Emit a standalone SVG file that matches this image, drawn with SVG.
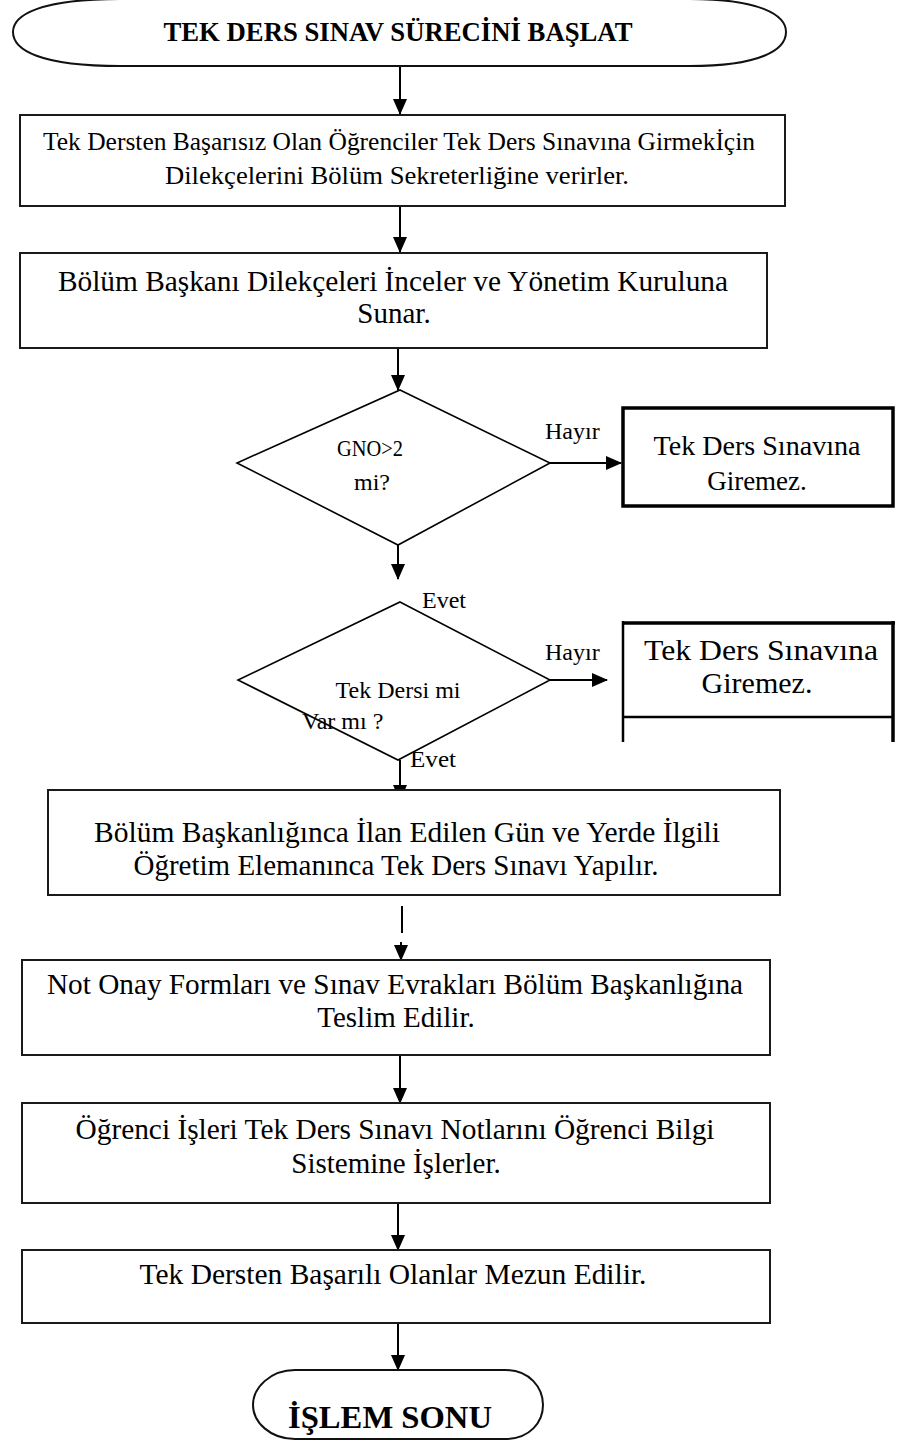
<svg xmlns="http://www.w3.org/2000/svg" width="907" height="1441" viewBox="0 0 907 1441">
<defs>
<style>
.t{font-family:"Liberation Serif","Times New Roman",serif;fill:#000;}
.c{text-anchor:middle;}
.b{font-weight:bold;}
.box{fill:#fff;stroke:#1a1a1a;stroke-width:2;}
.thick{fill:#fff;stroke:#000;stroke-width:3.5;}
.dia{fill:#fff;stroke:#000;stroke-width:1.6;}
.term{fill:#fff;stroke:#111;stroke-width:2;}
.ln{fill:none;stroke:#000;stroke-width:2;}
.ar{fill:none;stroke:#000;stroke-width:2;marker-end:url(#ah);}
</style>
<marker id="ah" markerUnits="userSpaceOnUse" markerWidth="16" markerHeight="14" viewBox="0 0 16 14" refX="15" refY="7" orient="auto">
<path d="M0,0 L16,7 L0,14 Z" fill="#000"/>
</marker>
</defs>
<rect width="907" height="1441" fill="#fff"/>

<g id="connectors">
<line class="ar" x1="400" y1="66" x2="400" y2="114"/>
<line class="ar" x1="400" y1="206" x2="400" y2="252"/>
<line class="ar" x1="398" y1="348" x2="398" y2="390"/>
<line class="ar" x1="515" y1="463" x2="621" y2="463"/>
<line class="ar" x1="398" y1="545" x2="398" y2="579"/>
<line class="ar" x1="550" y1="680" x2="607" y2="680"/>
<line class="ar" x1="400" y1="760" x2="400" y2="800"/>
<line class="ln" x1="402" y1="906" x2="402" y2="933" stroke-width="1.5"/>
<line class="ar" x1="401" y1="942" x2="401" y2="960"/>
<line class="ar" x1="400" y1="1055" x2="400" y2="1103"/>
<line class="ar" x1="398" y1="1203" x2="398" y2="1250"/>
<line class="ar" x1="398" y1="1323" x2="398" y2="1370"/>
</g>

<g id="start">
<path class="term" d="M120,-1 L690,-1 C760,-1 786,15 786,32 C786,50 760,66 690,66 L120,66 C40,66 13,50 13,32 C13,15 40,-1 120,-1 Z"/>
<text class="t b c" x="398" y="41" font-size="27" textLength="469" lengthAdjust="spacingAndGlyphs">TEK DERS SINAV SÜRECİNİ BAŞLAT</text>
</g>

<g id="n1">
<rect class="box" x="20" y="115" width="765" height="91"/>
<text class="t c" x="399" y="150" font-size="25" textLength="712" lengthAdjust="spacingAndGlyphs">Tek Dersten Başarısız Olan Öğrenciler Tek Ders Sınavına Girmekİçin</text>
<text class="t c" x="397" y="184" font-size="25" textLength="464" lengthAdjust="spacingAndGlyphs">Dilekçelerini Bölüm Sekreterliğine verirler.</text>
</g>

<g id="n2">
<rect class="box" x="20" y="253" width="747" height="95"/>
<text class="t c" x="393" y="291" font-size="29" textLength="670" lengthAdjust="spacingAndGlyphs">Bölüm Başkanı Dilekçeleri İnceler ve Yönetim Kuruluna</text>
<text class="t c" x="394" y="323" font-size="29">Sunar.</text>
</g>

<g id="d1">
<polygon class="dia" points="400,390 550,463 398,545 237,463"/>
<text class="t c" x="370" y="456" font-size="24" textLength="66" lengthAdjust="spacingAndGlyphs">GNO&gt;2</text>
<text class="t c" x="372" y="490" font-size="24">mi?</text>
</g>

<g id="lbl-hayir1">
<text class="t" x="545" y="439" font-size="24">Hayır</text>
</g>

<g id="r1">
<rect class="thick" x="623" y="408" width="270" height="98"/>
<text class="t c" x="757" y="455" font-size="27" textLength="207" lengthAdjust="spacingAndGlyphs">Tek Ders Sınavına</text>
<text class="t c" x="757" y="490" font-size="27">Giremez.</text>
</g>

<g id="lbl-evet1">
<text class="t" x="422" y="608" font-size="24">Evet</text>
</g>

<g id="d2">
<polygon class="dia" points="400,602 550,680 398,760 238,680"/>
<text class="t c" x="398" y="698" font-size="24">Tek Dersi mi</text>
<text class="t" x="302" y="729" font-size="24">Var mı ?</text>
</g>

<g id="lbl-hayir2">
<text class="t" x="545" y="660" font-size="24">Hayır</text>
</g>

<g id="r2">
<line x1="623" y1="623" x2="895" y2="623" stroke="#000" stroke-width="3.5"/>
<line x1="623" y1="621" x2="623" y2="742" stroke="#000" stroke-width="2.5"/>
<line x1="893" y1="621" x2="893" y2="742" stroke="#000" stroke-width="3.5"/>
<line x1="623" y1="717" x2="893" y2="717" stroke="#000" stroke-width="2.5"/>
<text class="t c" x="761" y="660" font-size="30" textLength="234" lengthAdjust="spacingAndGlyphs">Tek Ders Sınavına</text>
<text class="t c" x="757" y="693" font-size="30">Giremez.</text>
</g>

<g id="lbl-evet2">
<text class="t" x="410" y="767" font-size="23" textLength="46" lengthAdjust="spacingAndGlyphs">Evet</text>
</g>

<g id="n3">
<rect class="box" x="48" y="790" width="732" height="105"/>
<text class="t c" x="407" y="842" font-size="29" textLength="626" lengthAdjust="spacingAndGlyphs">Bölüm Başkanlığınca İlan Edilen Gün ve Yerde İlgili</text>
<text class="t c" x="396" y="875" font-size="29">Öğretim Elemanınca Tek Ders Sınavı Yapılır.</text>
</g>

<g id="n4">
<rect class="box" x="22" y="960" width="748" height="95"/>
<text class="t c" x="395" y="994" font-size="29" textLength="696" lengthAdjust="spacingAndGlyphs">Not Onay Formları ve Sınav Evrakları Bölüm Başkanlığına</text>
<text class="t c" x="396" y="1027" font-size="29">Teslim Edilir.</text>
</g>

<g id="n5">
<rect class="box" x="22" y="1103" width="748" height="100"/>
<text class="t c" x="395" y="1139" font-size="29" textLength="639" lengthAdjust="spacingAndGlyphs">Öğrenci İşleri Tek Ders Sınavı Notlarını Öğrenci Bilgi</text>
<text class="t c" x="396" y="1173" font-size="29">Sistemine İşlerler.</text>
</g>

<g id="n6">
<rect class="box" x="22" y="1250" width="748" height="73"/>
<text class="t c" x="393" y="1284" font-size="29" textLength="507" lengthAdjust="spacingAndGlyphs">Tek Dersten Başarılı Olanlar Mezun Edilir.</text>
</g>

<g id="end">
<path class="term" d="M295,1370 L505,1370 C530,1370 543,1388 543,1405 C543,1422 530,1439 505,1439 L295,1439 C270,1439 253,1422 253,1405 C253,1388 270,1370 295,1370 Z"/>
<text class="t b c" x="390" y="1428" font-size="32" textLength="204" lengthAdjust="spacingAndGlyphs">İŞLEM SONU</text>
</g>
</svg>
